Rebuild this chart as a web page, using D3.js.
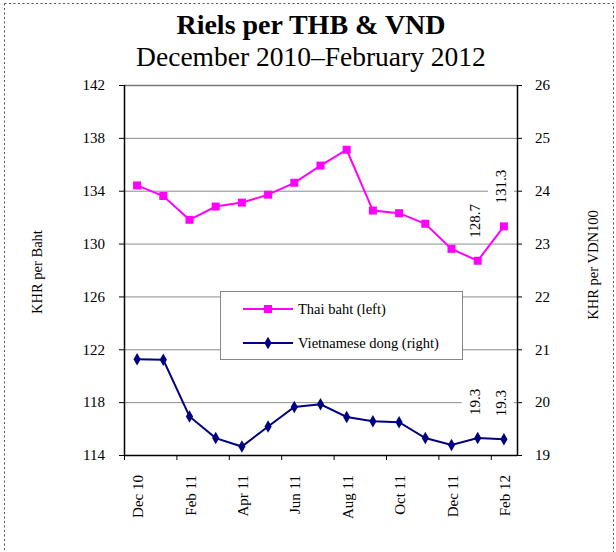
<!DOCTYPE html>
<html><head><meta charset="utf-8">
<script src="https://cdn.jsdelivr.net/npm/d3@7"></script>
<style>body{margin:0;background:#fff}svg{display:block;font-family:"Liberation Serif","Times New Roman",serif}</style>
</head><body><svg id="c" width="616" height="552"></svg>
<script>
const months = ["Dec 10","Jan 11","Feb 11","Mar 11","Apr 11","May 11","Jun 11","Jul 11","Aug 11","Sep 11","Oct 11","Nov 11","Dec 11","Jan 12","Feb 12"];
const thaiBaht = [134.4,133.6,131.8,132.8,133.1,133.7,134.6,135.9,137.1,132.5,132.3,131.5,129.6,128.7,131.3];
const vietDong = [20.81,20.80,19.73,19.32,19.16,19.54,19.91,19.96,19.72,19.64,19.62,19.32,19.19,19.32,19.30];
const leftTicks = [114,118,122,126,130,134,138,142];
const rightTicks = [19,20,21,22,23,24,25,26];
const labelledThb = [13,14];
const labelledVnd = [13,14];
const seriesNames = ["Thai baht (left)","Vietnamese dong (right)"];

const svg = d3.select("#c");
const L=124,R=517,T=85,B=455;
const x = d3.scaleBand().domain(months).range([L,R]);
const yL = d3.scaleLinear().domain([114,142]).range([B,T]);
const yR = d3.scaleLinear().domain([19,26]).range([B,T]);
const cx = m => x(m)+x.bandwidth()/2;
const FONT = "Liberation Serif, Times New Roman, serif";

// outer dotted frame
svg.append("rect").attr("x",4.5).attr("y",3.5).attr("width",609).attr("height",580)
  .attr("fill","none").attr("stroke","#555").attr("stroke-dasharray","2,2.5");

// titles
svg.append("text").attr("x",311).attr("y",34).attr("text-anchor","middle")
  .attr("font-size",28).attr("font-weight","bold").text("Riels per THB & VND");
svg.append("text").attr("x",311).attr("y",66).attr("text-anchor","middle")
  .attr("font-size",27.5).text("December 2010\u2013February 2012");

// gridlines
svg.append("g").selectAll("line").data(leftTicks.filter(d=>d>114)).join("line")
  .attr("x1",L).attr("x2",R).attr("y1",d=>yL(d)+0.5).attr("y2",d=>yL(d)+0.5)
  .attr("stroke",d=>d===142?"#777":"#8c8c8c").attr("stroke-width",d=>d===142?1.5:1);

// axes
const gl = svg.append("g").attr("transform",`translate(${L},0)`)
  .call(d3.axisLeft(yL).tickValues(leftTicks).tickFormat(d3.format("d")).tickSize(5).tickPadding(14));
const gr = svg.append("g").attr("transform",`translate(${R},0)`)
  .call(d3.axisRight(yR).tickValues(rightTicks).tickFormat(d3.format("d")).tickSize(5).tickPadding(13));
const gb = svg.append("g").attr("transform",`translate(0,${B})`)
  .call(d3.axisBottom(x).tickValues([]).tickSize(0).tickSizeOuter(0));
[gl,gr,gb].forEach(g=>{g.attr("font-family",FONT).attr("font-size",15);
  g.selectAll("path").attr("stroke","#000").attr("stroke-width",1.5);
  g.selectAll("line").attr("stroke","#000");
  g.selectAll("text").attr("fill","#000");});
gl.select("path").attr("d",`M0.5,${T}V${B}`);
gr.select("path").attr("d",`M0.5,${T}V${B}`);
gb.select("path").attr("d",`M${L},0.5H${R}`);

// x ticks and labels (every other month)
const shown = months.filter((m,i)=>i%2===0);
svg.append("g").selectAll("line").data(shown).join("line")
  .attr("x1",d=>x(d)+0.5).attr("x2",d=>x(d)+0.5).attr("y1",B).attr("y2",B+5).attr("stroke","#000");
svg.append("g").selectAll("text").data(shown).join("text")
  .attr("transform",d=>`translate(${cx(d)+6},${B+20}) rotate(-90)`)
  .attr("text-anchor","end").attr("font-size",15).text(d=>d);

// axis titles
svg.append("text").attr("transform","translate(42,272) rotate(-90)").attr("text-anchor","middle")
  .attr("font-size",14.5).text("KHR per Baht");
svg.append("text").attr("transform","translate(598,265) rotate(-90)").attr("text-anchor","middle")
  .attr("font-size",14.5).text("KHR per VDN100");

// data labels with white boxes
function dataLabel(px,py,txt){
  const g = svg.append("g").attr("transform",`translate(${px},${py-23}) rotate(-90)`);
  const t = g.append("text").attr("x",0).attr("y",5).attr("font-size",15).attr("text-anchor","start").text(txt);
  const bb = t.node().getBBox();
  g.insert("rect","text").attr("x",bb.x-2).attr("y",-13).attr("width",bb.width+4).attr("height",26).attr("fill","#fff");
}
labelledThb.forEach(i=>dataLabel(cx(months[i])-3,yL(thaiBaht[i]),thaiBaht[i].toFixed(1)));
labelledVnd.forEach(i=>dataLabel(cx(months[i])-3,yR(vietDong[i]),vietDong[i].toFixed(1)));

// lines
const lineL = d3.line().x((d,i)=>cx(months[i])).y(d=>yL(d));
const lineR = d3.line().x((d,i)=>cx(months[i])).y(d=>yR(d));
svg.append("path").attr("d",lineL(thaiBaht)).attr("fill","none").attr("stroke","#ff00ff").attr("stroke-width",2);
svg.append("path").attr("d",lineR(vietDong)).attr("fill","none").attr("stroke","#000080").attr("stroke-width",2);
svg.append("g").selectAll("rect").data(thaiBaht).join("rect")
  .attr("x",(d,i)=>cx(months[i])-4).attr("y",d=>yL(d)-4).attr("width",8).attr("height",8).attr("fill","#ff00ff");
const diamond = d3.symbol().type(d3.symbolDiamond).size(45);
svg.append("g").selectAll("path").data(vietDong).join("path")
  .attr("transform",(d,i)=>`translate(${cx(months[i])},${yR(d)})`).attr("d",diamond).attr("fill","#000080");

// legend
const lg = svg.append("g");
lg.append("rect").attr("x",220.5).attr("y",291.5).attr("width",242).attr("height",68)
  .attr("fill","#fff").attr("stroke","#888");
const colors = ["#ff00ff","#000080"];
seriesNames.forEach((n,k)=>{
  const yy = 309 + k*34;
  lg.append("line").attr("x1",243).attr("x2",293).attr("y1",yy).attr("y2",yy).attr("stroke",colors[k]).attr("stroke-width",2);
  if(k===0) lg.append("rect").attr("x",264).attr("y",yy-4).attr("width",8).attr("height",8).attr("fill",colors[k]);
  else lg.append("path").attr("transform",`translate(268,${yy})`).attr("d",diamond).attr("fill",colors[k]);
  lg.append("text").attr("x",298).attr("y",yy+5).attr("font-size",14.5).text(n);
});
</script></body></html>
